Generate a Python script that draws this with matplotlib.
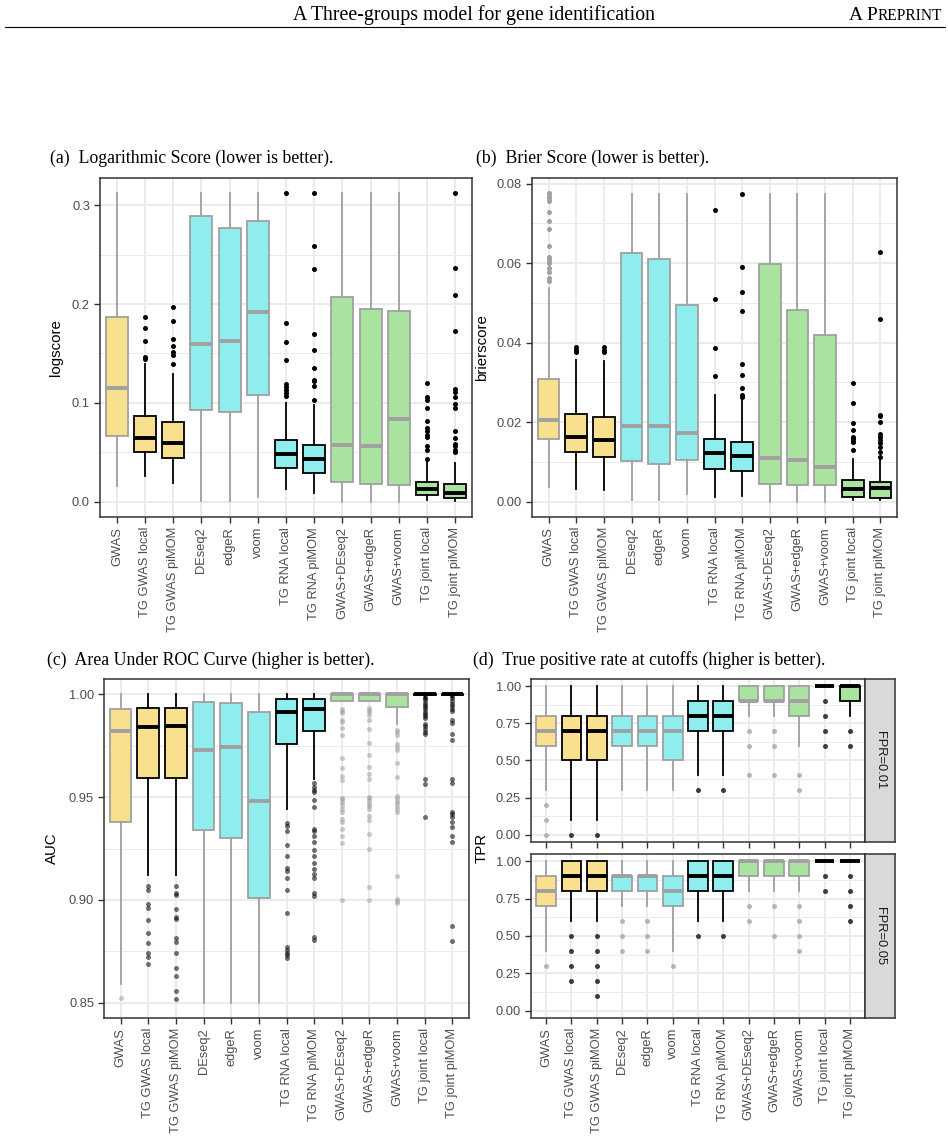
"""Three-groups model: boxplots of scoring metrics across methods."""

import matplotlib.pyplot as plt
import numpy as np
from matplotlib.lines import Line2D

plt.rcParams['font.family'] = ['Liberation Sans', 'DejaVu Sans']

methods = ["GWAS", "TG GWAS local", "TG GWAS piMOM", "DEseq2", "edgeR", "voom",
           "TG RNA local", "TG RNA piMOM", "GWAS+DEseq2", "GWAS+edgeR", "GWAS+voom",
           "TG joint local", "TG joint piMOM"]
# method family: 0 = GWAS only, 1 = RNA only, 2 = joint
family = [0, 0, 0, 1, 1, 1, 1, 1, 2, 2, 2, 2, 2]
# three-groups (TG) methods get a black outline
is_tg = [0, 1, 1, 0, 0, 0, 1, 1, 0, 0, 0, 1, 1]

# (a) logarithmic score
log_lo = [0.016, 0.026, 0.019, 0.001, 0.001, 0.005, 0.013, 0.009, 0.0, 0.0, 0.0, 0.002, 0.001]
log_q1 = [0.066, 0.050, 0.0445, 0.093, 0.091, 0.108, 0.034, 0.029, 0.020, 0.0175, 0.017, 0.0067, 0.0037]
log_med = [0.115, 0.064, 0.059, 0.160, 0.1625, 0.192, 0.048, 0.0435, 0.057, 0.056, 0.084, 0.013, 0.0084]
log_q3 = [0.187, 0.087, 0.081, 0.289, 0.277, 0.284, 0.0624, 0.0576, 0.207, 0.1945, 0.193, 0.020, 0.018]
log_hi = [0.312, 0.139, 0.129, 0.312, 0.312, 0.312, 0.100, 0.098, 0.312, 0.312, 0.312, 0.0425, 0.039]
log_out = [[], [0.187, 0.176, 0.163, 0.146, 0.144],
           [0.197, 0.183, 0.165, 0.158, 0.151, 0.148, 0.139], [], [], [],
           [0.312, 0.181, 0.162, 0.143, 0.119, 0.116, 0.113, 0.110, 0.107],
           [0.312, 0.259, 0.235, 0.170, 0.153, 0.135, 0.123, 0.122, 0.117, 0.103],
           [], [], [],
           [0.120, 0.106, 0.103, 0.095, 0.082, 0.074, 0.071, 0.067, 0.065, 0.056, 0.052, 0.043],
           [0.312, 0.236, 0.209, 0.173, 0.114, 0.111, 0.106, 0.099, 0.095, 0.071, 0.064,
            0.058, 0.056, 0.052, 0.050]]

# (b) Brier score
br_lo = [0.0036, 0.0032, 0.0028, 0.0003, 0.0003, 0.0019, 0.0011, 0.0013, 0.0, 0.0, 0.0, 0.0003, 0.0003]
br_q1 = [0.0157, 0.0124, 0.0113, 0.0101, 0.0094, 0.0105, 0.0082, 0.0078, 0.0043, 0.0042, 0.0042, 0.0011, 0.0009]
br_med = [0.0205, 0.0163, 0.0154, 0.0189, 0.0189, 0.0172, 0.0121, 0.0115, 0.0109, 0.0104, 0.0086, 0.0032, 0.0033]
br_q3 = [0.0309, 0.0221, 0.0213, 0.0625, 0.0610, 0.0494, 0.0157, 0.0150, 0.0597, 0.0483, 0.0420, 0.0053, 0.0048]
br_hi = [0.0537, 0.0356, 0.0353, 0.0773, 0.0773, 0.0773, 0.0268, 0.0260, 0.0773, 0.0773, 0.0773, 0.0107, 0.0107]
br_out = [[0.0775, 0.0769, 0.0763, 0.0756, 0.0729, 0.0706, 0.0685, 0.0643, 0.0614, 0.0608,
           0.0599, 0.0587, 0.0577, 0.0562, 0.0555],
          [0.0388, 0.0382, 0.0377], [0.0388, 0.0382, 0.0377], [], [], [],
          [0.0733, 0.0509, 0.0385, 0.0317],
          [0.0773, 0.0591, 0.0527, 0.0480, 0.0347, 0.0318, 0.0286, 0.0268, 0.0263],
          [], [], [],
          [0.0299, 0.0248, 0.0197, 0.0180, 0.0163, 0.0157, 0.0153, 0.0149, 0.0129],
          [0.0627, 0.0460, 0.0218, 0.0214, 0.0199, 0.0171, 0.0163, 0.0154, 0.0146, 0.0136,
           0.0124, 0.0113]]

# (c) area under ROC curve
auc_lo = [0.859, 0.912, 0.912, 0.850, 0.850, 0.850, 0.944, 0.959, 0.997, 0.997, 0.9855, 0.9985, 0.9985]
auc_q1 = [0.938, 0.9595, 0.9595, 0.934, 0.930, 0.901, 0.9757, 0.9822, 0.997, 0.997, 0.994, 0.9995, 0.9995]
auc_med = [0.982, 0.984, 0.9846, 0.973, 0.9744, 0.948, 0.9916, 0.9927, 1.0, 1.0, 1.0, 1.0, 1.0]
auc_q3 = [0.9927, 0.9935, 0.9935, 0.9964, 0.996, 0.9914, 0.9976, 0.9979, 1.0, 1.0, 1.0, 1.0, 1.0]
auc_hi = [1.0] * 13
auc_out = [[0.852],
           [0.9066, 0.905, 0.898, 0.896, 0.890, 0.884, 0.879, 0.874, 0.872, 0.869],
           [0.9066, 0.9034, 0.9026, 0.8956, 0.8916, 0.8908, 0.8816, 0.8794, 0.8741, 0.8668,
            0.8629, 0.8557, 0.8516],
           [], [], [],
           [0.9372, 0.9359, 0.9333, 0.9267, 0.9212, 0.9154, 0.9142, 0.9104, 0.9049, 0.8937,
            0.877, 0.8757, 0.8743, 0.873, 0.8718],
           [0.957, 0.955, 0.9536, 0.9523, 0.9485, 0.9453, 0.9345, 0.9333, 0.9312, 0.928,
            0.9244, 0.9215, 0.918, 0.915, 0.9126, 0.9105, 0.9034, 0.9018, 0.8819, 0.8807],
           [0.993, 0.9919, 0.991, 0.9875, 0.9866, 0.9835, 0.9803, 0.969, 0.9644, 0.9604,
            0.9583, 0.9498, 0.949, 0.9474, 0.9461, 0.9442, 0.9426, 0.9393, 0.9377, 0.9345,
            0.9309, 0.9275, 0.8997],
           [0.9935, 0.9924, 0.9913, 0.9898, 0.9875, 0.9833, 0.9762, 0.9704, 0.9649, 0.9612,
            0.9587, 0.9503, 0.9494, 0.9482, 0.9466, 0.9455, 0.9442, 0.9406, 0.939, 0.932,
            0.9248, 0.9065, 0.8997],
           [0.9827, 0.9817, 0.9803, 0.9761, 0.9746, 0.973, 0.9665, 0.96, 0.9506, 0.9498,
            0.9482, 0.9471, 0.9455, 0.9442, 0.9426, 0.9118, 0.9005, 0.8994, 0.8985],
           [0.9989, 0.9981, 0.9971, 0.996, 0.9948, 0.9939, 0.9927, 0.9916, 0.9906, 0.9895,
            0.9883, 0.9858, 0.9846, 0.983, 0.9819, 0.9809, 0.9587, 0.9566, 0.9405],
           [0.9992, 0.9981, 0.9968, 0.9955, 0.9943, 0.993, 0.9919, 0.9874, 0.9862, 0.9809,
            0.9778, 0.9587, 0.9571, 0.9426, 0.9417, 0.9401, 0.9377, 0.9356, 0.9312, 0.928,
            0.8871, 0.8798]]

# (d) true positive rate, FPR = 0.01
tpr1_lo = [0.3, 0.1, 0.1, 0.3, 0.3, 0.3, 0.4, 0.4, 0.8, 0.8, 0.6, 1.0, 0.8]
tpr1_q1 = [0.6, 0.5, 0.5, 0.6, 0.6, 0.5, 0.7, 0.7, 0.9, 0.9, 0.8, 1.0, 0.9]
tpr1_med = [0.7, 0.7, 0.7, 0.7, 0.7, 0.7, 0.8, 0.8, 0.9, 0.9, 0.9, 1.0, 1.0]
tpr1_q3 = [0.8, 0.8, 0.8, 0.8, 0.8, 0.8, 0.9, 0.9, 1.0, 1.0, 1.0, 1.0, 1.0]
tpr1_hi = [1.0] * 13
tpr1_out = [[0.2, 0.1, 0.0], [0.0], [0.0], [], [], [], [0.3], [0.3],
            [0.7, 0.6, 0.4], [0.7, 0.6, 0.4], [0.4, 0.3], [0.9, 0.8, 0.7, 0.6], [0.7, 0.6]]

# (d) true positive rate, FPR = 0.05
tpr5_lo = [0.4, 0.6, 0.6, 0.7, 0.7, 0.4, 0.6, 0.6, 0.8, 0.8, 0.8, 1.0, 1.0]
tpr5_q1 = [0.7, 0.8, 0.8, 0.8, 0.8, 0.7, 0.8, 0.8, 0.9, 0.9, 0.9, 1.0, 1.0]
tpr5_med = [0.8, 0.9, 0.9, 0.9, 0.9, 0.8, 0.9, 0.9, 1.0, 1.0, 1.0, 1.0, 1.0]
tpr5_q3 = [0.9, 1.0, 1.0, 0.9, 0.9, 0.9, 1.0, 1.0, 1.0, 1.0, 1.0, 1.0, 1.0]
tpr5_hi = [1.0] * 13
tpr5_out = [[0.3], [0.5, 0.4, 0.3, 0.2], [0.5, 0.4, 0.3, 0.2, 0.1], [0.6, 0.5, 0.4],
            [0.6, 0.5, 0.4], [0.3], [0.5], [0.5], [0.7, 0.6], [0.7, 0.5],
            [0.7, 0.6, 0.5, 0.4], [0.9, 0.8], [0.9, 0.8, 0.7, 0.6]]

fills = ['#F8E08E', '#90EDED', '#AAE3A0']
edges = ['#A0A0A0', '#000000']
GRID = '#EBEBEB'
DARK = '#333333'
serif = ['Liberation Serif', 'DejaVu Serif']

W, H = 948, 1139
fig = plt.figure(figsize=(W / 100, H / 100), dpi=100)


def rect(l, t, r, b):
    # pixel box (from the top left) -> figure fraction
    return [l / W, 1 - b / H, (r - l) / W, (b - t) / H]


def ftext(x, y, s, **kw):
    return fig.text(x / W, 1 - y / H, s, family=serif, va='baseline', **kw)


def boxes(ax, lo, q1, med, q3, hi, out, falpha):
    n = len(lo)
    for i in range(n):
        fc = fills[family[i]]
        ec = edges[is_tg[i]]
        s = dict(whislo=lo[i], q1=q1[i], med=med[i], q3=q3[i], whishi=hi[i], fliers=out[i])
        ax.bxp([s], positions=[i + 1], widths=0.78, patch_artist=True, showcaps=False,
               boxprops=dict(facecolor=fc, edgecolor=ec, linewidth=1.3),
               whiskerprops=dict(color=ec, linewidth=1.3),
               medianprops=dict(color=ec, linewidth=2.8, solid_capstyle='butt'),
               flierprops=dict(marker='o', markerfacecolor=ec, markeredgecolor='none',
                               markersize=3.6, alpha=falpha),
               zorder=3)
    ax.set_xlim(0.4, n + 0.6)


def style(ax, yticks, ylabels, yminor, ylim, xlabels=True):
    ax.set_ylim(*ylim)
    ax.set_yticks(yticks)
    ax.set_yticklabels(ylabels)
    ax.set_yticks(yminor, minor=True)
    ax.set_xticks(np.arange(1, len(methods) + 1))
    if xlabels:
        ax.set_xticklabels(methods, rotation=90, ha='center', va='top')
    else:
        ax.set_xticklabels([])
        ax.tick_params(axis='x', length=0)
    ax.set_axisbelow(True)
    ax.grid(which='major', color=GRID, linewidth=1.4)
    ax.grid(which='minor', axis='y', color=GRID, linewidth=0.7)
    ax.tick_params(which='minor', length=0)
    ax.tick_params(which='major', length=4, width=1.0, color=DARK,
                   labelcolor='#4D4D4D', labelsize=9.3, pad=3.2)
    for sp in ax.spines.values():
        sp.set_color(DARK)
        sp.set_linewidth(1.1)


# page header
ftext(474, 20, "A Three-groups model for gene identification", fontsize=14.3, ha='center')
t_rep = ftext(942, 20, "REPRINT", fontsize=11.2, ha='right')
fig.add_artist(Line2D([5 / W, 945 / W], [1 - 27 / H] * 2, color='black', linewidth=0.8))

# (a)
ax_a = fig.add_axes(rect(100, 178, 472, 517))
boxes(ax_a, log_lo, log_q1, log_med, log_q3, log_hi, log_out, 1.0)
style(ax_a, [0, 0.1, 0.2, 0.3], ['0.0', '0.1', '0.2', '0.3'], [0.05, 0.15, 0.25],
      (-0.0156, 0.3276))
ax_a.set_ylabel('logscore', fontsize=10.8)
ax_a.yaxis.set_label_coords(-0.099, 0.5)
ftext(50, 163, "(a)  Logarithmic Score (lower is better).", fontsize=12.8)

# "A P" of the small-caps running head, just left of "REPRINT"
ax_a.annotate("A P", xy=(0, 0), xycoords=t_rep, ha='right', va='bottom',
              family=serif, fontsize=14.0, annotation_clip=False)

# (b)
ax = fig.add_axes(rect(532, 178, 897, 517))
boxes(ax, br_lo, br_q1, br_med, br_q3, br_hi, br_out, 1.0)
style(ax, [0, 0.02, 0.04, 0.06, 0.08], ['0.00', '0.02', '0.04', '0.06', '0.08'],
      [0.01, 0.03, 0.05, 0.07], (-0.0039, 0.0814))
ax.set_ylabel('brierscore', fontsize=10.8)
ax.yaxis.set_label_coords(-0.118, 0.5)
ftext(476, 163, "(b)  Brier Score (lower is better).", fontsize=12.8)

# (c)
ax = fig.add_axes(rect(104, 679, 469, 1018))
boxes(ax, auc_lo, auc_q1, auc_med, auc_q3, auc_hi, auc_out, 0.55)
style(ax, [0.85, 0.90, 0.95, 1.00], ['0.85', '0.90', '0.95', '1.00'],
      [0.875, 0.925, 0.975], (0.8425, 1.0075))
ax.set_ylabel('AUC', fontsize=10.8)
ax.yaxis.set_label_coords(-0.123, 0.5)
ftext(47, 665, "(c)  Area Under ROC Curve (higher is better).", fontsize=12.8)

# (d) two facets with strips on the right
tpr_ticks = [0, 0.25, 0.5, 0.75, 1.0]
tpr_labels = ['0.00', '0.25', '0.50', '0.75', '1.00']
facets = [
    ((679, 842), tpr1_lo, tpr1_q1, tpr1_med, tpr1_q3, tpr1_hi, tpr1_out, "FPR=0.01", False),
    ((854, 1018), tpr5_lo, tpr5_q1, tpr5_med, tpr5_q3, tpr5_hi, tpr5_out, "FPR=0.05", True),
]
for (top, bot), lo, q1, med, q3, hi, out, strip, xl in facets:
    ax = fig.add_axes(rect(531, top, 865, bot))
    boxes(ax, lo, q1, med, q3, hi, out, 0.75)
    style(ax, tpr_ticks, tpr_labels, [0.125, 0.375, 0.625, 0.875], (-0.05, 1.05), xlabels=xl)
    sax = fig.add_axes(rect(865, top, 895, bot))
    sax.set_facecolor('#D9D9D9')
    sax.set_xticks([])
    sax.set_yticks([])
    for sp in sax.spines.values():
        sp.set_color(DARK)
        sp.set_linewidth(1.1)
    sax.text(0.5, 0.5, strip, rotation=-90, ha='center', va='center',
             fontsize=9.3, color='#1A1A1A', transform=sax.transAxes)
fig.text(482 / W, 1 - 848 / H, 'TPR', rotation=90, ha='center', va='center', fontsize=10.8)
ftext(473, 665, "(d)  True positive rate at cutoffs (higher is better).", fontsize=12.8)

fig.savefig('out.png', dpi=100)
